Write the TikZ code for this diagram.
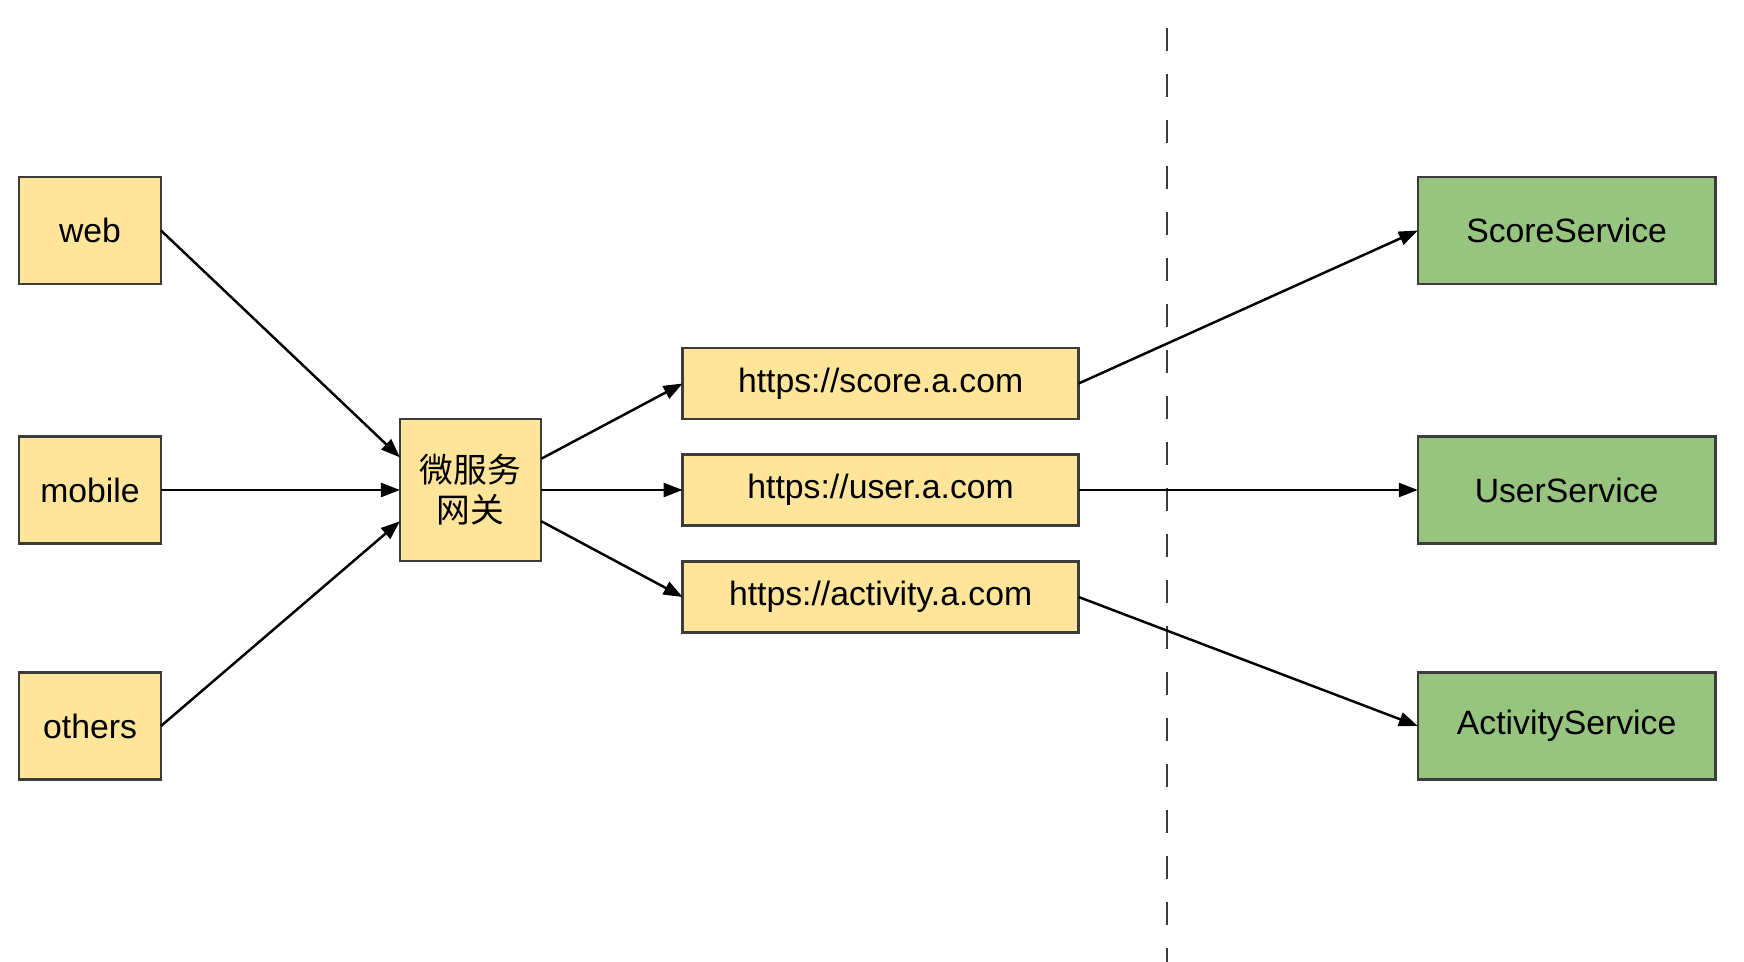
\documentclass[tikz,border=0pt]{standalone}
\usepackage{fontspec}
\setmainfont{Liberation Sans}
\newfontfamily\cjk{Noto Sans CJK SC}
\usetikzlibrary{arrows.meta,calc}

\definecolor{boxyellow}{HTML}{FFE599}
\definecolor{boxgreen}{HTML}{97C47E}
\definecolor{boxline}{HTML}{3C3C3C}

\tikzset{
    client/.style={draw=boxline, line width=0.7pt, fill=boxyellow, inner sep=0pt, outer sep=0pt,
        minimum width=1.42cm, minimum height=1.07cm, font=\fontsize{9.6pt}{11.5pt}\selectfont},
    urlbox/.style={client, minimum width=3.96cm, minimum height=0.71cm},
    service/.style={client, fill=boxgreen, minimum width=2.975cm},
    gateway/.style={client, minimum width=1.413cm, minimum height=1.42cm, align=center,
        font=\fontsize{9.6pt}{11.4pt}\selectfont\cjk},
    route/.style={line width=0.7pt, -{Triangle[length=0.19cm,width=0.14cm]}},
}

\begin{document}
\begin{tikzpicture}
    \useasboundingbox (0,0) rectangle (17.44,-9.62);

    % clients
    \node [client] (web) at (0.90,-2.305) {web};
    \node [client] (mobile) at (0.90,-4.90) {mobile};
    \node [client] (others) at (0.90,-7.26) {others};

    % gateway
    \node [gateway] (gw) at (4.706,-4.90) {微服务\\网关};

    % domains
    \node [urlbox] (score) at (8.806,-3.835) {https://score.a.com};
    \node [urlbox] (user) at (8.806,-4.90) {https://user.a.com};
    \node [urlbox] (activity) at (8.806,-5.97) {https://activity.a.com};

    % services
    \node [service] (scoresvc) at (15.666,-2.305) {ScoreService};
    \node [service] (usersvc) at (15.666,-4.90) {UserService};
    \node [service] (activitysvc) at (15.666,-7.26) {ActivityService};

    % boundary
    \coordinate (top) at (11.671,-0.28);
    \coordinate (bottom) at (11.671,-9.62);
    \draw [boxline, line width=0.7pt, dash pattern=on 0.23cm off 0.23cm] (top) -- (bottom);

    % clients -> gateway
    \draw [route] (web.east) -- ($(gw.north west)!0.27!(gw.south west)$);
    \draw [route] (mobile.east) -- (gw.west);
    \draw [route] (others.east) -- ($(gw.north west)!0.72!(gw.south west)$);

    % gateway -> domains
    \draw [route] ($(gw.north east)!0.28!(gw.south east)$) -- (score.west);
    \draw [route] (gw.east) -- (user.west);
    \draw [route] ($(gw.north east)!0.72!(gw.south east)$) -- (activity.west);

    % domains -> services
    \draw [route] (score.east) -- (scoresvc.west);
    \draw [route] (user.east) -- (usersvc.west);
    \draw [route] (activity.east) -- (activitysvc.west);
\end{tikzpicture}
\end{document}
